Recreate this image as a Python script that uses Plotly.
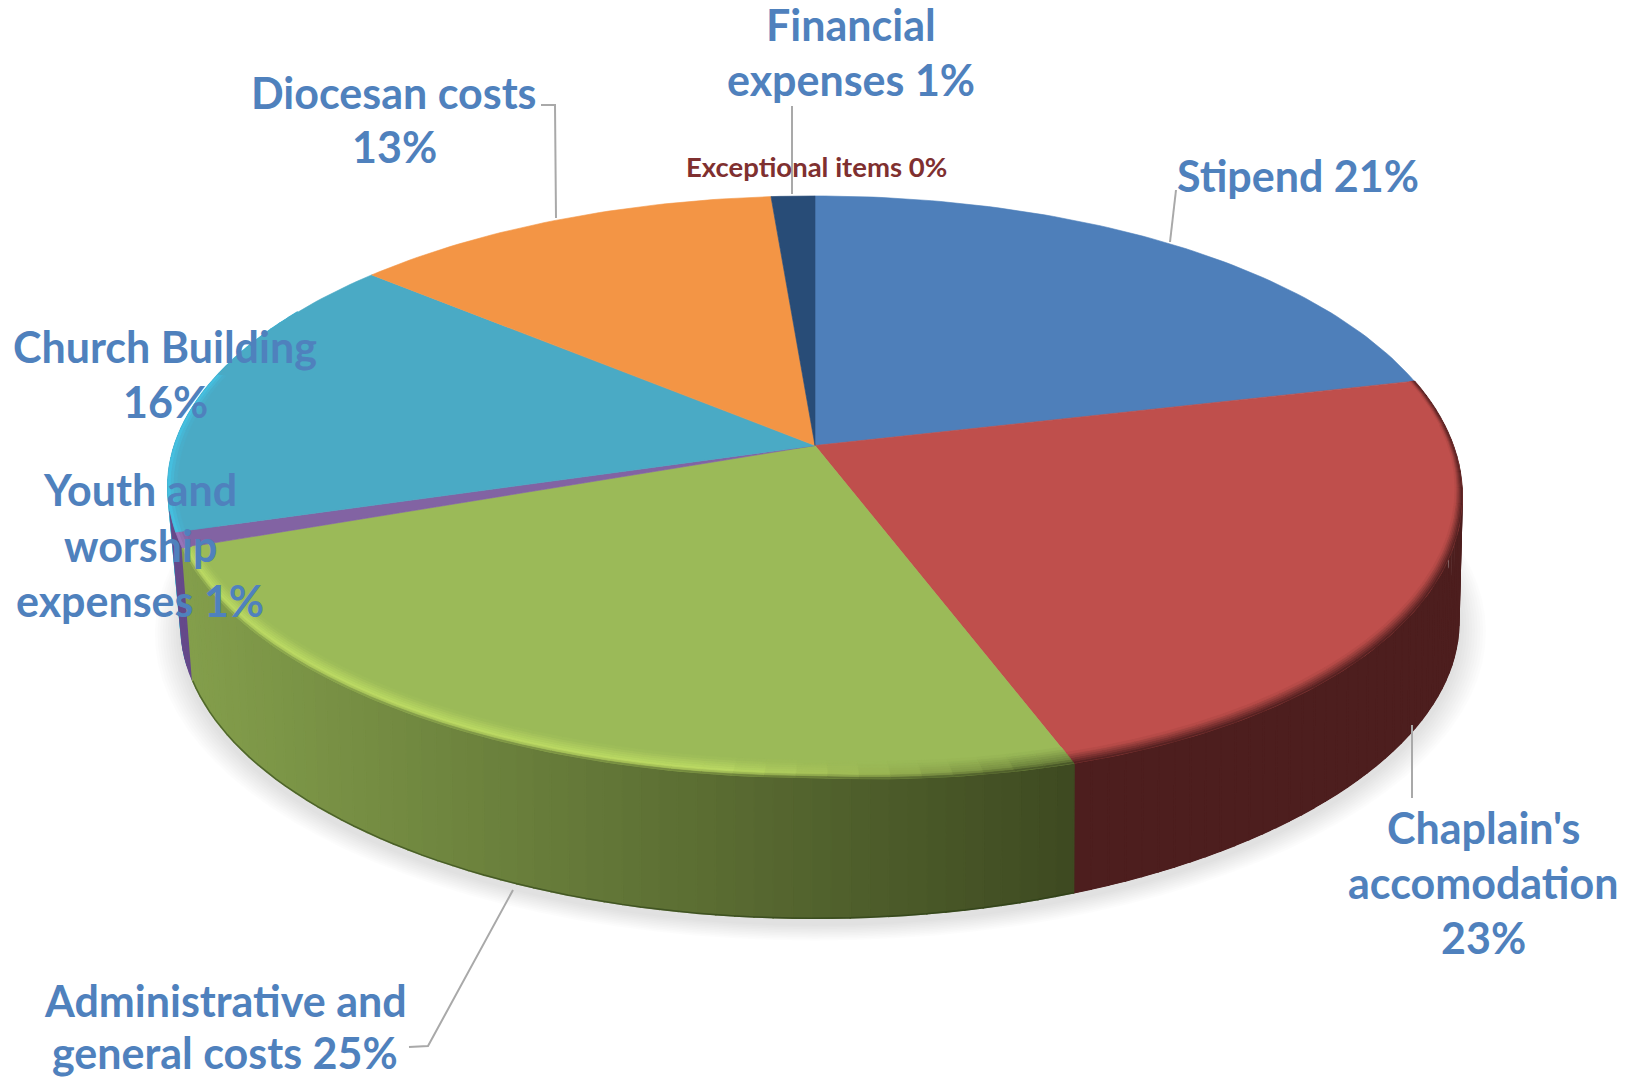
import math
import plotly.graph_objects as go

# ---- data ----
categories = ["Stipend", "Chaplain's accomodation", "Administrative and general costs",
              "Youth and worship expenses", "Church Building", "Diocesan costs",
              "Financial expenses", "Exceptional items"]
values = [21.0, 23.3, 25.14, 0.86, 16.05, 12.4, 1.25, 0.0]
top_colors = ["#4e7fba", "#bf4f4c", "#9bba58", "#8263a3", "#4aaac5", "#f39545", "#284c77", "#7f3030"]
side_colors = ["#2a4568", "#4d1e1e", "#607a35", "#65498a", "#3fb0d0", "#b06a28", "#1b3553", "#5a2020"]

label_lines = [
    ("Financial", 851, 24, 0), ("expenses 1%", 851, 79, 0),
    ("Diocesan costs", 394, 92, 0), ("13%", 394, 146, 0),
    ("Exceptional items 0%", 816, 166, 1),
    ("Stipend 21%", 1298, 175, 0),
    ("Church Building", 165, 346, 0), ("16%", 165, 401, 0),
    ("Youth and", 140, 489, 0), ("worship", 140, 545, 0), ("expenses 1%", 140, 600, 0),
    ("Chaplain's", 1483, 827, 0), ("accomodation", 1483, 882, 0), ("23%", 1483, 937, 0),
    ("Administrative and", 225, 1000, 0), ("general costs 25%", 225, 1052, 0),
]
leaders = [
    ([541, 555, 556], [105, 105, 218]),
    ([792, 792], [106, 194]),
    ([1176, 1170], [190, 242]),
    ([1412, 1412], [725, 798]),
    ([513, 428, 409], [890, 1046, 1047]),
]

# ---- projection of the tilted disc ----
CX, CY, A, B, K = 815.0, 445.5, 285.0, 640.6, 0.142
CYB, AB, BB, KB = 577.0, 286.7, 626.0, 0.16
BULGE_TOP, BULGE_BOT = 30.0, 10.0


def top(t, r=1.0):
    u, v = r * math.sin(t), r * math.cos(t)
    d = 1 + K * v
    return CX + B * u / d, CY - A * v / d + BULGE_TOP * max(0.0, u) * ((1 - v) ** 2) / 4


def bot(t, r=1.0, dy=0.0):
    u, v = r * math.sin(t), r * math.cos(t)
    d = 1 + KB * v
    return CX + BB * u / d + BULGE_BOT * max(0.0, u) ** 3, CYB + dy - AB * v / d


def rgb(h):
    return tuple(int(h[i:i + 2], 16) for i in (1, 3, 5))


def mix(c1, c2, f):
    a, b = rgb(c1), rgb(c2)
    f = max(0.0, min(1.0, f))
    return "#%02x%02x%02x" % tuple(round(a[i] + (b[i] - a[i]) * f) for i in range(3))


def arange(a, b, step):
    n = max(1, int(math.ceil((b - a) / step)))
    return [a + (b - a) * i / n for i in range(n + 1)]


fig = go.Figure()


def poly(xs, ys, color, lw=0.8):
    fig.add_trace(go.Scatter(x=xs, y=ys, mode="lines", fill="toself", fillcolor=color,
                             line=dict(color=color, width=lw), hoverinfo="skip",
                             showlegend=False))


# shadow
for i in range(10):
    r = 1.04 - i * 0.004
    ts = arange(0, 2 * math.pi, math.radians(3))
    pts = [bot(t, r, 6) for t in ts]
    poly([p[0] for p in pts], [p[1] for p in pts], "rgba(0,0,0,0.013)", 0)

total = sum(values)
edges = [0.0]
for v in values:
    edges.append(edges[-1] + v / total * 2 * math.pi)

LO, HI = math.radians(60), math.radians(300)
GREEN_L, GREEN_R = "#839e4b", "#3e4a21"
PURPLE_SIDE_EXTRA = math.radians(4)


def green_side(x):
    return mix(GREEN_L, GREEN_R, (x - 190) / (1070 - 190))


# sides: swept quads, left-hand slices painted so that nearer ones lie on top
for i in [1, 7, 6, 5, 4, 3, 2]:
    if values[i] <= 0:
        continue
    a0, a1 = max(edges[i], LO), min(edges[i + 1], HI)
    if i == 3:
        a1 += PURPLE_SIDE_EXTRA
    if a1 <= a0:
        continue
    ts = arange(a0, a1, math.radians(1.5))
    if i == 2:
        for t0, t1 in zip(ts, ts[1:]):
            p = [top(t0), top(t1), bot(t1), bot(t0)]
            xm = sum(q[0] for q in p) / 4
            poly([q[0] for q in p] + [p[0][0]], [q[1] for q in p] + [p[0][1]], green_side(xm), 1.6)
        pts = [bot(t) for t in ts]
        fig.add_trace(go.Scatter(x=[q[0] for q in pts], y=[q[1] for q in pts], mode="lines",
                                 line=dict(color="rgba(40,60,20,0.55)", width=1.5),
                                 hoverinfo="skip", showlegend=False))
    else:
        # a band under the quads, then one path holding all the quads of the slice
        p = [top(t) for t in ts] + [bot(t) for t in reversed(ts)]
        poly([q[0] for q in p] + [p[0][0]], [q[1] for q in p] + [p[0][1]], side_colors[i], 1.0)
        xs, ys = [], []
        for t0, t1 in zip(ts, ts[1:]):
            p = [top(t0), top(t1), bot(t1), bot(t0), top(t0)]
            xs += [q[0] for q in p] + [None]
            ys += [q[1] for q in p] + [None]
        poly(xs, ys, side_colors[i], 1.6)

# top faces
for i, v in enumerate(values):
    if v <= 0:
        continue
    ts = arange(edges[i], edges[i + 1], math.radians(1))
    p = [(CX, CY)] + [top(t) for t in ts] + [(CX, CY)]
    poly([q[0] for q in p], [q[1] for q in p], top_colors[i], 0.6)


def strip(t0, t1, r00, r01, r10, r11, c):
    p = [top(t0, r00), top(t1, r01), top(t1, r11), top(t0, r10)]
    poly([q[0] for q in p] + [p[0][0]], [q[1] for q in p] + [p[0][1]], c, 0.7)


def band_w(t, w0, w1):
    return w0 + w1 * max(0.0, -math.cos(t))


# red bevel
ts = arange(edges[1], edges[2], math.radians(3))
for t0, t1 in zip(ts, ts[1:]):
    N = 6
    for j in range(N):
        f0, f1 = j / N, (j + 1) / N
        w0, w1 = band_w(t0, 0.008, 0.022), band_w(t1, 0.008, 0.022)
        strip(t0, t1, 1 - f0 * w0, 1 - f0 * w1, 1 - f1 * w0, 1 - f1 * w1,
              mix(side_colors[1], top_colors[1], (f0 + f1) / 2))

# green bevel
LIME = "#bedc64"
ts = arange(edges[2], edges[3], math.radians(2.5))
for t0, t1 in zip(ts, ts[1:]):
    tm = (t0 + t1) / 2
    s = (math.degrees(tm) - 163) / 25
    s = max(0.0, min(1.0, s))
    xm = top(tm)[0]
    sc = green_side(xm)
    base = top_colors[2]
    peak = mix(mix(base, sc, 0.5), LIME, s)
    w0 = band_w(t0, 0.01, 0.035)
    w1 = band_w(t1, 0.01, 0.035)
    N = 8
    for j in range(N):
        f0, f1 = j / N, (j + 1) / N
        fm = (f0 + f1) / 2
        if fm < 0.25:
            c = mix(sc, peak, fm / 0.25)
        else:
            c = mix(peak, base, (fm - 0.25) / 0.75)
        strip(t0, t1, 1 - f0 * w0, 1 - f0 * w1, 1 - f1 * w0, 1 - f1 * w1, c)

# cyan and purple rim lights
for i, light, span in ((3, "#9a78bd", 1.0), (4, "#44c3e4", 0.55)):
    a0 = edges[i]
    a1 = a0 + (edges[i + 1] - a0) * span
    ts = arange(a0, a1, math.radians(2))
    for t0, t1 in zip(ts, ts[1:]):
        for j in range(3):
            f0, f1 = j / 3, (j + 1) / 3
            w = 0.014
            strip(t0, t1, 1 - f0 * w, 1 - f0 * w, 1 - f1 * w, 1 - f1 * w,
                  mix(light, top_colors[i], (f0 + f1) / 2))

# leader lines
for xs, ys in leaders:
    fig.add_trace(go.Scatter(x=xs, y=ys, mode="lines", line=dict(color="#a9a9a9", width=2),
                             hoverinfo="skip", showlegend=False))

# labels
for text, x, y, small in label_lines:
    fig.add_annotation(x=x, y=y, text="<b>%s</b>" % text, showarrow=False, xanchor="center",
                       yanchor="middle",
                       font=dict(family="Lato", size=27.5 if small else 43,
                                 color="#7f3030" if small else "#4f81bd"))

fig.update_layout(
    width=1636, height=1078, autosize=False,
    margin=dict(l=0, r=0, t=0, b=0),
    paper_bgcolor="white", plot_bgcolor="white",
    showlegend=False,
    xaxis=dict(range=[0, 1636], visible=False, fixedrange=True),
    yaxis=dict(range=[1078, 0], visible=False, fixedrange=True),
)
fig.write_html("out.html", config=dict(displayModeBar=False),
               post_script="document.body.style.margin='0';document.body.style.overflow='hidden';")
